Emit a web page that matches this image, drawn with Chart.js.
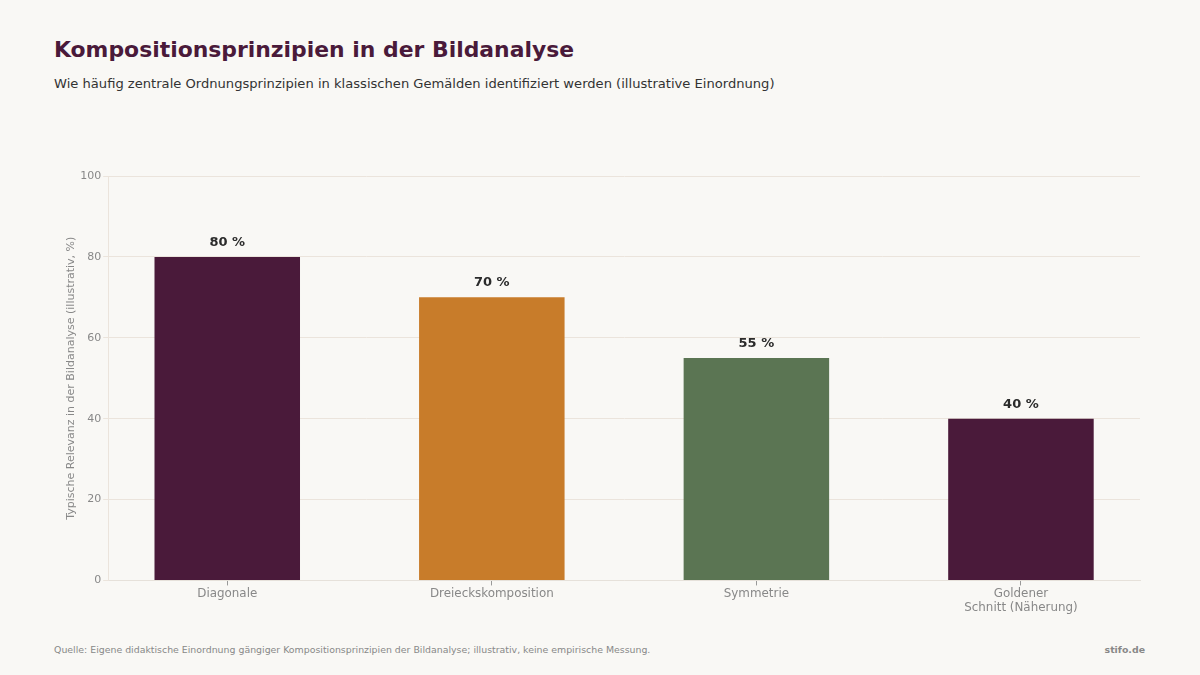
<!DOCTYPE html>
<html lang="de">
<head>
  <meta charset="UTF-8" />
  <title>Kompositionsprinzipien in der Bildanalyse</title>
  <script src="https://cdn.jsdelivr.net/npm/chart.js"></script>
  <style>
    html, body { margin: 0; padding: 0; }
    body {
      width: 1200px; height: 675px; position: relative; overflow: hidden;
      background: #f9f8f5; font-family: "DejaVu Sans", sans-serif;
    }
    h1 {
      position: absolute; left: 54px; top: 37px; margin: 0;
      font-size: 21.9px; font-weight: bold; color: #4a1a3a;
    }
    .sub {
      position: absolute; left: 54px; top: 76px; margin: 0;
      font-size: 13.1px; color: #333;
    }
    .chart-box { position: absolute; left: 54px; top: 166px; width: 1100px; height: 450px; }
    .source { position: absolute; left: 54px; top: 644px; font-size: 9.4px; color: #888; }
    .brand { position: absolute; right: 55px; top: 644px; font-size: 9.4px; font-weight: bold; color: #888; }
  </style>
</head>
<body>

<h1>Kompositionsprinzipien in der Bildanalyse</h1>
<p class="sub">Wie häufig zentrale Ordnungsprinzipien in klassischen Gemälden identifiziert werden (illustrative Einordnung)</p>

<div class="chart-box">
  <canvas id="barChart"></canvas>
</div>

<div class="source">Quelle: Eigene didaktische Einordnung gängiger Kompositionsprinzipien der Bildanalyse; illustrativ, keine empirische Messung.</div>
<div class="brand">stifo.de</div>

<script>
  const labels = ['Diagonale', 'Dreieckskomposition', 'Symmetrie', ['Goldener', 'Schnitt (Näherung)']];
  const values = [80, 70, 55, 40];
  const barColors = ['#4a1a3a', '#c87c2a', '#5b7553', '#4a1a3a'];
  const yTicks = [0, 20, 40, 60, 80, 100];

  // Werte über den Balken
  const valueLabels = {
    id: 'valueLabels',
    afterDatasetsDraw(chart) {
      const { ctx } = chart;
      const meta = chart.getDatasetMeta(0);
      ctx.save();
      ctx.font = 'bold 13px "DejaVu Sans", sans-serif';
      ctx.fillStyle = '#2b2b2b';
      ctx.textAlign = 'center';
      ctx.textBaseline = 'bottom';
      meta.data.forEach((bar, i) => {
        ctx.fillText(values[i] + ' %', bar.x, bar.y - 8);
      });
      ctx.restore();
    }
  };

  new Chart(document.getElementById('barChart'), {
    type: 'bar',
    data: {
      datasets: [{
        data: values.map((v, i) => ({ x: i, y: v })),
        backgroundColor: barColors,
        borderWidth: 0,
        categoryPercentage: 1,
        barPercentage: 0.55
      }]
    },
    options: {
      responsive: true,
      maintainAspectRatio: false,
      animation: false,
      layout: { padding: { top: 10, right: 14, bottom: 0, left: 3 } },
      plugins: {
        legend: { display: false },
        tooltip: { enabled: false }
      },
      scales: {
        x: {
          type: 'linear',
          min: -0.45,
          max: 3.45,
          offset: false,
          afterBuildTicks(axis) { axis.ticks = labels.map((l, i) => ({ value: i })); },
          grid: { offset: false, drawOnChartArea: false, drawTicks: true, tickLength: 5, color: '#999' },
          border: { color: '#e6e1da' },
          ticks: {
            color: '#888',
            font: { family: 'DejaVu Sans', size: 11.9 },
            padding: 1,
            callback: (v) => labels[v]
          }
        },
        y: {
          min: 0,
          max: 100,
          afterBuildTicks(axis) { axis.ticks = yTicks.map(v => ({ value: v })); },
          grid: { color: '#ebe4dc', tickLength: 5 },
          border: { color: '#ebe4dc' },
          ticks: {
            color: '#888',
            font: { family: 'DejaVu Sans', size: 11 },
            padding: 2
          },
          title: {
            display: true,
            text: 'Typische Relevanz in der Bildanalyse (illustrativ, %)',
            color: '#888',
            font: { family: 'DejaVu Sans', size: 11 },
            padding: { top: 8, bottom: 0 }
          }
        }
      }
    },
    plugins: [valueLabels]
  });
</script>

</body>
</html>
